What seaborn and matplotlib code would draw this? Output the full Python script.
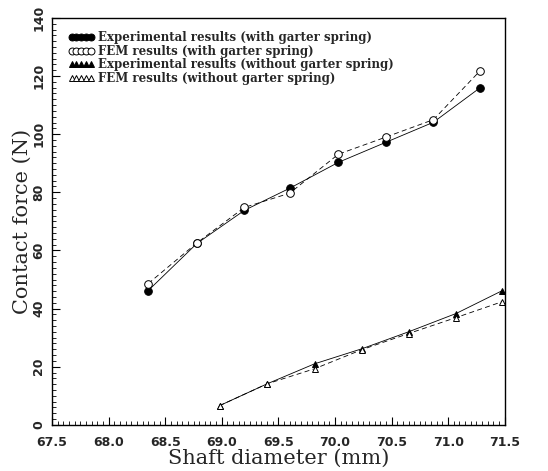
import numpy as np
import pandas as pd
import matplotlib.pyplot as plt
import seaborn as sns
from matplotlib.ticker import MultipleLocator

# Data
x_with = [68.35, 68.78, 69.2, 69.6, 70.03, 70.45, 70.87, 71.28]
exp_with = [46.2, 62.4, 73.8, 81.4, 90.3, 97.2, 104.1, 115.9]
fem_with = [48.6, 62.6, 74.8, 79.7, 93.1, 99.0, 105.0, 121.7]

x_without = [68.98, 69.4, 69.82, 70.24, 70.65, 71.07, 71.48]
exp_without = [6.6, 14.1, 21.0, 26.2, 32.0, 38.3, 46.2]
fem_without = [6.6, 14.1, 19.3, 25.9, 31.4, 36.9, 42.4]

labels = ["Experimental results (with garter spring)",
          "FEM results (with garter spring)",
          "Experimental results (without garter spring)",
          "FEM results (without garter spring)"]

sns.set_theme(style="white")
plt.rcParams['font.family'] = ['DejaVu Serif']

fig = plt.figure(figsize=(5.48, 4.71), dpi=100)
ax = fig.add_axes([0.095, 0.098, 0.826, 0.864])

series = [
    (x_with, exp_with, labels[0], dict(marker='o', markersize=5.5, markerfacecolor='black', linestyle='-')),
    (x_with, fem_with, labels[1], dict(marker='o', markersize=5.5, markerfacecolor='white', linestyle=(0, (6, 4)))),
    (x_without, exp_without, labels[2], dict(marker='^', markersize=4.5, markerfacecolor='black', linestyle='-')),
    (x_without, fem_without, labels[3], dict(marker='^', markersize=5, markerfacecolor='white', linestyle=(0, (6, 4)))),
]
for xs, ys, lab, st in series:
    df = pd.DataFrame({'x': xs, 'y': ys})
    sns.lineplot(data=df, x='x', y='y', ax=ax, color='black', linewidth=0.6,
                 markeredgecolor='black', markeredgewidth=0.7, label=lab, **st)

ax.set_xlim(67.5, 71.5)
ax.set_ylim(0, 140)
ax.xaxis.set_major_locator(MultipleLocator(0.5))
ax.xaxis.set_minor_locator(MultipleLocator(0.05))
ax.yaxis.set_major_locator(MultipleLocator(20))
ax.yaxis.set_minor_locator(MultipleLocator(2))
ax.tick_params(which='both', direction='in', color='black', bottom=True, left=True)
ax.tick_params(which='major', length=6, width=0.8)
ax.tick_params(which='minor', length=3, width=0.6)
ax.tick_params(axis='x', labelsize=9, pad=8)
ax.tick_params(axis='y', labelsize=9, labelrotation=90, pad=5)
for t in ax.get_xticklabels() + ax.get_yticklabels():
    t.set_family('DejaVu Sans')
    t.set_fontweight('bold')
for t in ax.get_yticklabels():
    t.set_verticalalignment('center')

for s in ax.spines.values():
    s.set_color('black')
    s.set_linewidth(1.0)

ax.set_xlabel('Shaft diameter (mm)', fontsize=15, labelpad=0)
ax.set_ylabel('Contact force (N)', fontsize=15, labelpad=0)

leg = ax.legend(loc='upper left', bbox_to_anchor=(0.02, 0.985), frameon=False,
                numpoints=5, handlelength=2.2, handletextpad=0.3, labelspacing=0.05,
                borderaxespad=0.2, prop={'family': 'DejaVu Serif', 'weight': 'bold', 'size': 8.5})
for h in leg.get_lines():
    h.set_linestyle('None')
    h.set_markersize(5)

fig.savefig('out.png', dpi=100)
